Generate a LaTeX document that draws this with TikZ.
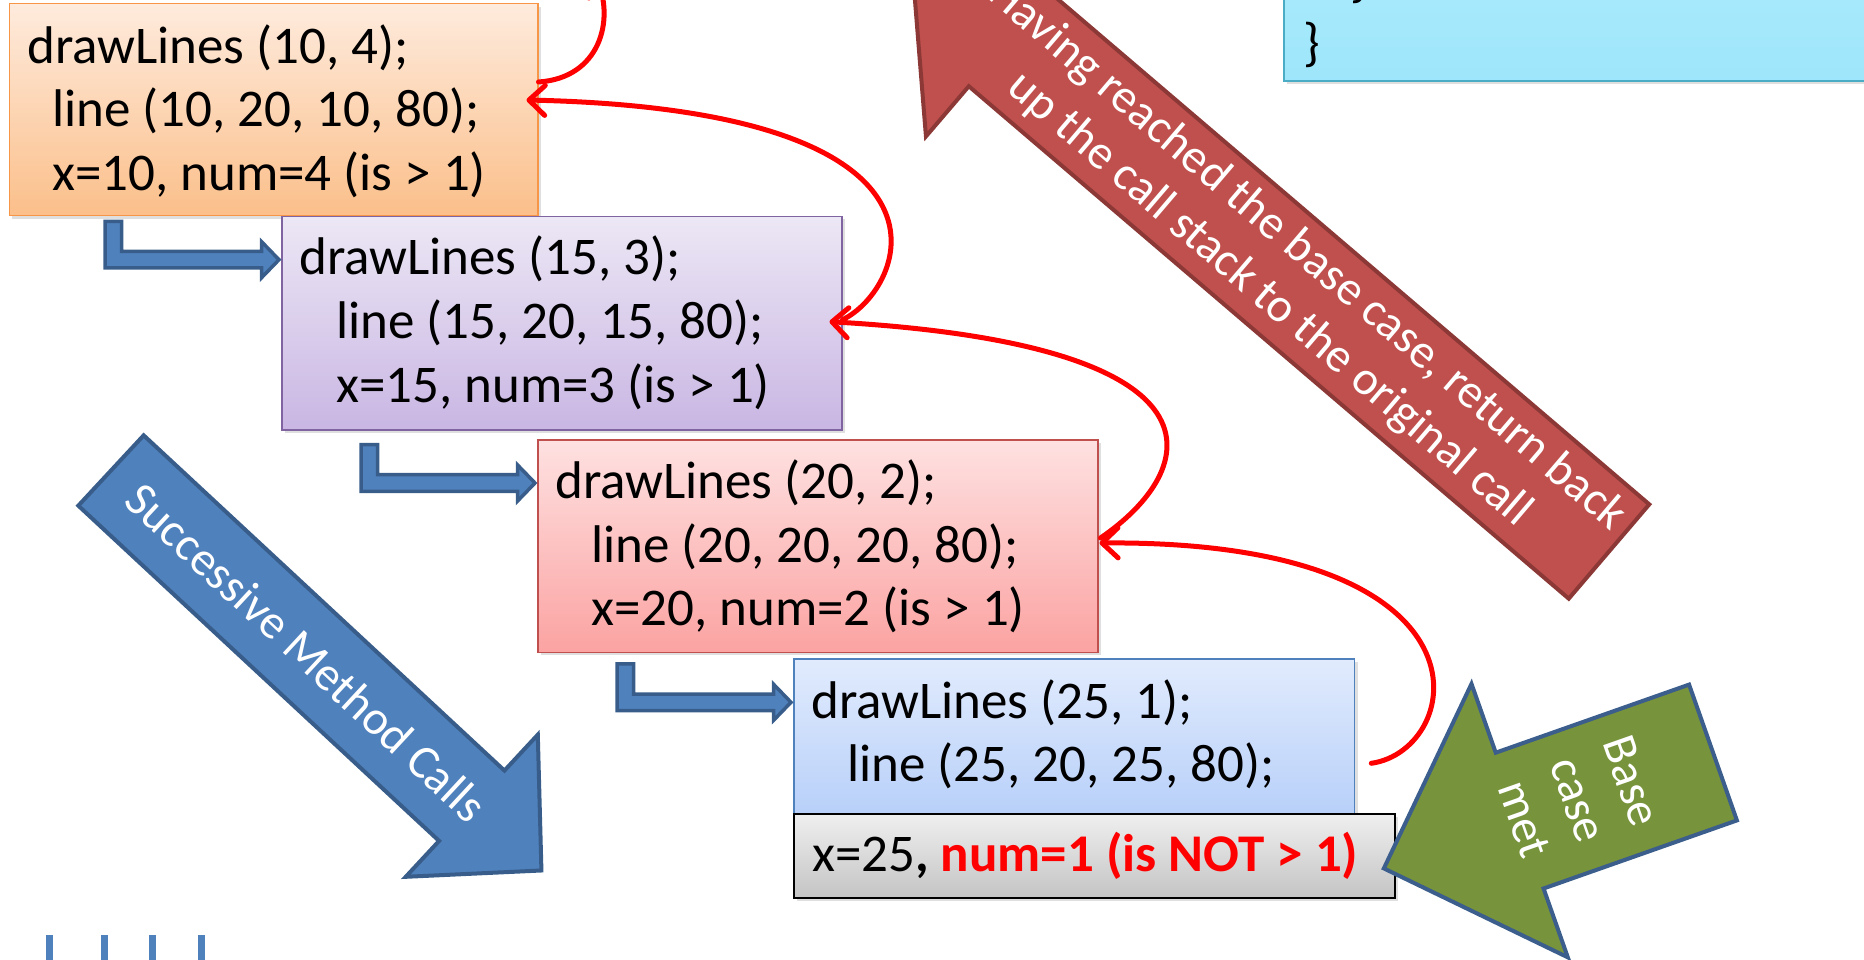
\documentclass[tikz,border=0pt]{standalone}
\usepackage{fontspec}
\setmainfont{Carlito}
\usetikzlibrary{arrows.meta,shadows,calc}
\definecolor{orangeT}{HTML}{FEEBDD}
\definecolor{orangeB}{HTML}{FBBF8A}
\definecolor{orangeD}{HTML}{F79646}
\definecolor{purpleT}{HTML}{ECE7F5}
\definecolor{purpleB}{HTML}{C9B6E3}
\definecolor{purpleD}{HTML}{8064A2}
\definecolor{pinkT}{HTML}{FEE1E1}
\definecolor{pinkB}{HTML}{FBA3A2}
\definecolor{pinkD}{HTML}{C0504D}
\definecolor{lblueT}{HTML}{E1EBFD}
\definecolor{lblueB}{HTML}{B8D0F9}
\definecolor{lblueD}{HTML}{4F81BD}
\definecolor{grayT}{HTML}{EFEFEF}
\definecolor{grayB}{HTML}{C4C4C4}
\definecolor{cyanT}{HTML}{B4EEFD}
\definecolor{cyanB}{HTML}{9EE6FB}
\definecolor{cyanD}{HTML}{4BACC6}
\definecolor{blueF}{HTML}{4F81BD}
\definecolor{blueD}{HTML}{385D8A}
\definecolor{redF}{HTML}{C0504D}
\definecolor{redD}{HTML}{8C3836}
\definecolor{greenF}{HTML}{77933C}
\definecolor{greenD}{HTML}{3B5E8C}
\begin{document}
\begin{tikzpicture}[x=1pt,y=-1pt,
  box/.style={rectangle, draw, line width=1.5pt, inner sep=0pt, anchor=north west,
    drop shadow={shadow xshift=3pt, shadow yshift=-3pt, opacity=0.25}},
  code/.style={anchor=base west, inner sep=0pt, font=\fontsize{53}{63.7}\selectfont},
  atext/.style={text=white, align=center, inner sep=0pt, font=\fontsize{48}{58}\selectfont},
  bigblue/.style={fill=blueF, draw=blueD, line width=4pt, line join=miter},
  bigred/.style={fill=redF, draw=redD, line width=4pt, line join=miter},
  biggreen/.style={fill=greenF, draw=greenD, line width=4pt, line join=miter},
  retline/.style={draw=red, line width=5pt, line cap=round,
    -{Straight Barb[length=16pt,width=30pt,round]}},
  tickmark/.style={draw=blueF, line width=7pt},
  bentarrow/.pic={
    \draw[fill=blueF, draw=blueD, line width=3.5pt, line join=miter]
      (-174,-38.4) -- (-157.4,-38.4) -- (-157.4,-8.3) -- (-17.4,-8.3) -- (-17.4,-18)
      -- (0,0) -- (-17.4,18) -- (-17.4,8.3) -- (-174,8.3) -- cycle;}
]
\useasboundingbox (0,0) rectangle (1864,960);
\clip (0,0) rectangle (1864,960);

% cyan code box (cut at top and right)
\node[box, anchor=south west, draw=cyanD, top color=cyanT, bottom color=cyanB,
  minimum width=640pt, minimum height=220pt] (cyan) at (1283,82) {};
\node[code] (br1) at (1350,-3.2) {\}};
\node[code] (br2) at (1303,60.5) {\}};

% big red return arrow
\begin{scope}[shift={(1609,551.5)}, rotate=139.5]
  \draw[bigred] (0,-62) -- (789,-62) -- (789,-128) -- (917.5,0) -- (789,128) -- (789,62) -- (0,62) -- cycle;
  \node[atext, rotate=-40.5] (ret) at (422,0)
    {Having reached the base case, return back\\up the call stack to the original call};
\end{scope}

% call boxes
\node[box, draw=orangeD, top color=orangeT, bottom color=orangeB,
  minimum width=528.5pt, minimum height=212pt] (orange) at (8.5,3) {};
\node[code] (o1) at (27,63.3) {drawLines (10, 4);};
\node[code] (o2) at (52,127) {line (10, 20, 10, 80);};
\node[code] (o3) at (52,190.7) {x=10, num=4 (is > 1)};

\node[box, draw=purpleD, top color=purpleT, bottom color=purpleB,
  minimum width=560pt, minimum height=213.6pt] (purple) at (281,215.7) {};
\node[code] (p1) at (299,275) {drawLines (15, 3);};
\node[code] (p2) at (336,338.7) {line (15, 20, 15, 80);};
\node[code] (p3) at (336,402.4) {x=15, num=3 (is > 1)};

\node[box, draw=pinkD, top color=pinkT, bottom color=pinkB,
  minimum width=560pt, minimum height=212.7pt] (pink) at (537,439) {};
\node[code] (k1) at (555,498.5) {drawLines (20, 2);};
\node[code] (k2) at (591,562.2) {line (20, 20, 20, 80);};
\node[code] (k3) at (591,625.9) {x=20, num=2 (is > 1)};

\node[box, draw=lblueD, top color=lblueT, bottom color=lblueB,
  minimum width=560.8pt, minimum height=155pt] (lblue) at (793,658.3) {};
\node[code] (b1) at (811,718) {drawLines (25, 1);};
\node[code] (b2) at (847,781.7) {line (25, 20, 25, 80);};

\node[box, draw=black, line width=2pt, top color=grayT, bottom color=grayB,
  minimum width=600.8pt, minimum height=84.6pt] (gray) at (793,812.7) {};
\node[code] (g1) at (812,871.7) {x=25\textbf{, \textcolor{red}{num=1 (is NOT > 1)}}};

% bent call arrows
\pic (ba1) at ($(purple.north west)+(-2,44)$) {bentarrow};
\pic (ba2) at ($(pink.north west)+(-2,44)$) {bentarrow};
\pic (ba3) at ($(lblue.north west)+(-2,44)$) {bentarrow};

% big blue arrow
\begin{scope}[shift={(111,470.5)}, rotate=-42.9]
  \draw[bigblue] (0,-48) -- (492.5,-48) -- (492.5,-97) -- (587.6,0) -- (492.5,97) -- (492.5,48) -- (0,48) -- cycle;
  \node[atext, rotate=-42.9] (smc) at (267,0) {Successive Method Calls};
\end{scope}

% green arrow
\begin{scope}[shift={(1713,752.5)}, rotate=199.4]
  \draw[biggreen] (0,-72) -- (205,-72) -- (205,-145) -- (349,0) -- (205,145) -- (205,72) -- (0,72) -- cycle;
  \node[atext, rotate=-70.6, font=\fontsize{48}{57}\selectfont] (bcm) at (143,0) {Base\\case\\met};
\end{scope}

% red return curves
\coordinate (caller) at (595,-25);
\draw[retline] ($(lblue.north east)+(16,105)$) .. controls (1465,750) and (1505,540) .. ($(pink.north east)+(1,104)$);
\draw[retline] ($(pink.north east)+(2,99)$) .. controls (1200,470) and (1240,345) .. ($(purple.north east)+(-13,106)$);
\draw[retline] ($(purple.north east)+(0,104)$) .. controls (905,290) and (985,110) .. ($(orange.north east)+(-12,97)$);
\draw[retline] ($(orange.north east)+(0,79)$) .. controls (600,78) and (615,20) .. (caller);

% tick marks at bottom
\draw[tickmark] (49,935) -- (49,965);
\draw[tickmark] (104,935) -- (104,965);
\draw[tickmark] (152.7,935) -- (152.7,965);
\draw[tickmark] (201,935) -- (201,965);
\end{tikzpicture}
\end{document}
